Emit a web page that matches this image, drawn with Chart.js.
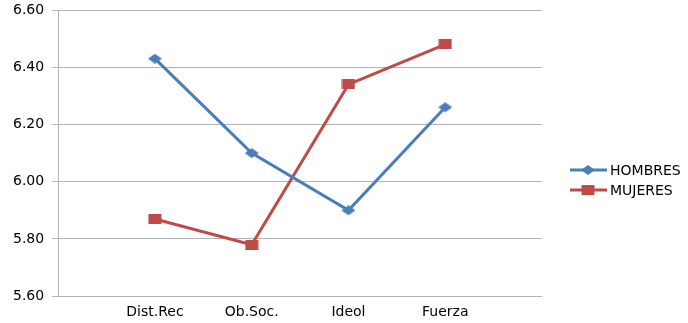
<!DOCTYPE html>
<html>
<head>
<meta charset="utf-8">
<script src="https://cdn.jsdelivr.net/npm/chart.js@4/dist/chart.umd.min.js"></script>
<style>
  html, body { margin: 0; padding: 0; background: #fff; }
  #wrap { width: 688px; height: 323px; }
</style>
</head>
<body>
<div id="wrap"><canvas id="c"></canvas></div>
<script>
// categories (blank slots at both ends, like the original axis)
const categories = ['', 'Dist.Rec', 'Ob.Soc.', 'Ideol', 'Fuerza', ''];
const hombres = [null, 6.43, 6.10, 5.90, 6.26, null];
const mujeres = [null, 5.87, 5.78, 6.34, 6.48, null];
const yTicks = [5.60, 5.80, 6.00, 6.20, 6.40, 6.60];

const BLUE = '#4a7ebb';
const RED = '#be4b48';
const GRID = '#b3b3b3';

// the original markers are a bit flattened, so draw them on small canvases
function marker(color, shape) {
    const cv = document.createElement('canvas');
    cv.width = 14; cv.height = 10;
    const ctx = cv.getContext('2d');
    ctx.fillStyle = color;
    ctx.beginPath();
    if (shape === 'diamond') {
        ctx.moveTo(7, 0); ctx.lineTo(14, 5); ctx.lineTo(7, 10); ctx.lineTo(0, 5);
        ctx.closePath();
    } else {
        ctx.rect(0.5, 0, 13, 10);
    }
    ctx.fill();
    return cv;
}

const sideLegend = {
    id: 'sideLegend',
    afterDraw(chart) {
        const ctx = chart.ctx;
        ctx.save();
        ctx.font = '14px "DejaVu Sans"';
        ctx.textBaseline = 'middle';
        chart.data.datasets.forEach((ds, i) => {
            const y = 170 + i * 20;
            ctx.strokeStyle = ds.borderColor;
            ctx.lineWidth = 3;
            ctx.beginPath();
            ctx.moveTo(570, y);
            ctx.lineTo(607, y);
            ctx.stroke();
            const m = ds.pointStyle;
            ctx.drawImage(m, 588 - m.width / 2, y - m.height / 2);
            ctx.fillStyle = '#000';
            ctx.fillText(ds.label, 610, y + 1);
        });
        ctx.restore();
    }
};

new Chart(document.getElementById('c'), {
    type: 'line',
    data: {
        labels: categories,
        datasets: [
            {
                label: 'HOMBRES',
                data: hombres,
                borderColor: BLUE,
                backgroundColor: BLUE,
                borderWidth: 3,
                pointStyle: marker(BLUE, 'diamond'),
                pointRadius: 7,
                tension: 0
            },
            {
                label: 'MUJERES',
                data: mujeres,
                borderColor: RED,
                backgroundColor: RED,
                borderWidth: 3,
                pointStyle: marker(RED, 'square'),
                pointRadius: 7,
                tension: 0
            }
        ]
    },
    options: {
        responsive: true,
        maintainAspectRatio: false,
        animation: false,
        layout: { padding: { top: 10, left: 5, right: 146, bottom: 2 } },
        scales: {
            x: {
                offset: false,
                grid: { display: false },
                border: { display: false },
                ticks: {
                    color: '#000',
                    font: { family: 'DejaVu Sans', size: 14 },
                    maxRotation: 0,
                    autoSkip: false,
                    padding: 0
                }
            },
            y: {
                min: 5.6,
                max: 6.6,
                afterBuildTicks: (scale) => {
                    scale.ticks = yTicks.map(v => ({ value: v }));
                },
                afterFit: (scale) => {
                    scale.paddingTop = 0;
                    scale.paddingBottom = 0;
                },
                grid: { color: GRID, lineWidth: 1, tickLength: 6 },
                border: { display: true, color: GRID, width: 1 },
                ticks: {
                    color: '#000',
                    font: { family: 'DejaVu Sans', size: 14 },
                    padding: 8,
                    callback: (v) => Number(v).toFixed(2)
                }
            }
        },
        plugins: {
            tooltip: { enabled: false },
            legend: { display: false }
        }
    },
    plugins: [sideLegend]
});
</script>
</body>
</html>
